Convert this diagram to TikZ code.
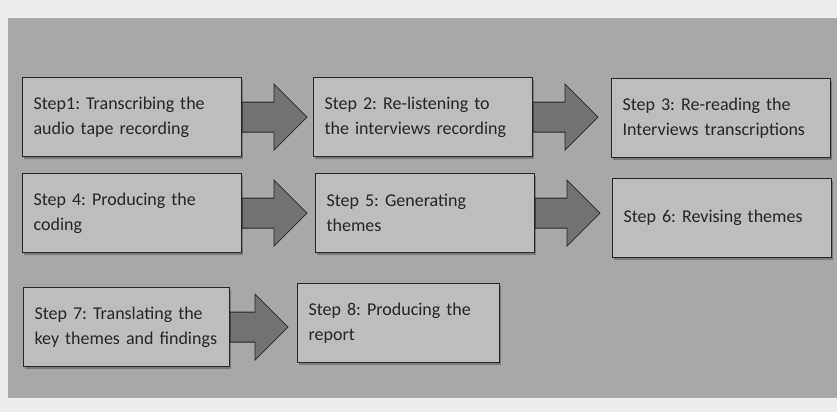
\documentclass[tikz,border=0pt]{standalone}
\usepackage{fontspec}
\setmainfont{Carlito}
\usetikzlibrary{calc,shadows}

\definecolor{scanpaper}{gray}{0.93}
\definecolor{panelgray}{gray}{0.66}
\definecolor{boxgray}{gray}{0.74}
\definecolor{arrowgray}{gray}{0.45}
\definecolor{inkgray}{gray}{0.15}

% block arrow from one step box to the next
\newcommand{\blockarrow}[3]{%
  \filldraw[fatarrow] let \p1=(#1.east), \p2=(#2.west) in
    (\x1,\y1+15pt) -- (\x2-#3-33pt,\y1+15pt) -- (\x2-#3-33pt,\y1+33pt)
    -- (\x2-#3,\y1) -- (\x2-#3-33pt,\y1-33pt) -- (\x2-#3-33pt,\y1-15pt)
    -- (\x1,\y1-15pt) -- cycle;
}

\begin{document}
\frenchspacing
\begin{tikzpicture}[
        x=1pt, y=-1pt,
        stepbox/.style={draw=inkgray, line width=1.2pt, fill=boxgray,
            anchor=north west, inner sep=11pt, text width=#1,
            minimum height=79pt, align=left, text=inkgray,
            font=\fontsize{18}{25}\selectfont,
            drop shadow={shadow xshift=1.5pt, shadow yshift=-2pt, fill=black!70}},
        stepbox/.default=197pt,
        fatarrow/.style={fill=arrowgray, draw=inkgray, line width=0.8pt}
    ]
        \useasboundingbox (0,0) rectangle (837,412);
        \fill[scanpaper] (0,0) rectangle (837,412);
        \fill[panelgray] (8,18) rectangle (837,398);
        % row one
        \node[stepbox] (step1) at (22,77) {Step1: Transcribing the\\audio tape recording};
        \node[stepbox] (step2) at (313,77) {Step 2: Re-listening to\\the interviews recording};
        \node[stepbox] (step3) at (611,78) {Step 3: Re-reading the\\Interviews transcriptions};
        % row two
        \node[stepbox] (step4) at (22,173) {Step 4: Producing the\\coding};
        \node[stepbox] (step5) at (315,173) {Step 5: Generating\\themes};
        \node[stepbox] (step6) at (612,178) {Step 6: Revising themes};
        % row three
        \node[stepbox=184pt] (step7) at (23,287) {Step 7: Translating the\\key themes and findings};
        \node[stepbox=180pt] (step8) at (297,283) {Step 8: Producing the\\report};
        \blockarrow{step1}{step2}{6pt}
        \blockarrow{step2}{step3}{13pt}
        \blockarrow{step4}{step5}{8pt}
        \blockarrow{step5}{step6}{12pt}
        \blockarrow{step7}{step8}{9pt}
    \end{tikzpicture}
\end{document}
